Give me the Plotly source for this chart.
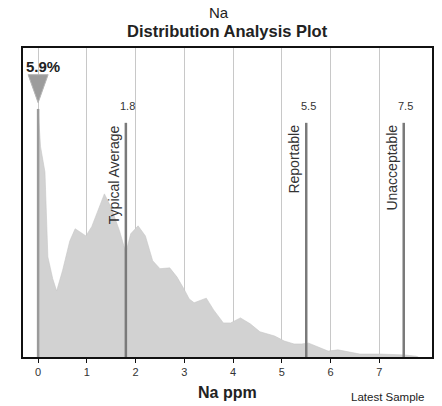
import plotly.graph_objects as go

# ---- data ----
na_ppm = [0.0, 0.05, 0.14, 0.17, 0.2, 0.3, 0.38, 0.5, 0.65, 0.76, 0.88, 0.98, 1.1, 1.2,
          1.36, 1.5, 1.67, 1.8, 1.9, 2.05, 2.2, 2.35, 2.5, 2.7, 2.85, 3.0, 3.1, 3.2,
          3.45, 3.6, 3.8, 3.95, 4.15, 4.35, 4.55, 4.85, 5.05, 5.25, 5.4, 5.55, 5.75,
          5.95, 6.15, 6.35, 6.6, 7.0, 7.5, 7.75, 7.8]
pct = [5.9, 5.0, 4.4, 3.2, 2.38, 1.86, 1.57, 2.05, 2.76, 3.05, 2.95, 2.88, 3.10, 3.40,
       3.88, 3.55, 3.00, 2.48, 2.93, 3.12, 2.88, 2.29, 2.10, 2.12, 1.90, 1.60, 1.38, 1.29,
       1.40, 1.12, 0.81, 0.81, 0.93, 0.79, 0.60, 0.50, 0.38, 0.31, 0.31, 0.33, 0.24,
       0.14, 0.17, 0.12, 0.07, 0.07, 0.05, 0.02, 0.0]

latest_value = 0.0
latest_pct = 5.9
latest_label = "5.9%"

ref_values = [1.8, 5.5, 7.5]
ref_value_labels = ["1.8", "5.5", "7.5"]
ref_names = ["Typical Average", "Reportable", "Unacceptable"]
tick_vals = [0, 1, 2, 3, 4, 5, 6, 7]
tick_text = ["0", "1", "2", "3", "4", "5", "6", "7"]

FONT = "Liberation Sans, Arial, sans-serif"
REF_TOP = 5.57
TRI_Y = 6.05
Y_MAX = 7.35

fig = go.Figure()

fig.add_trace(go.Scatter(
    x=na_ppm, y=pct, mode="lines", fill="tozeroy",
    fillcolor="#d2d2d2", line=dict(color="#c6c6c6", width=0.6),
    hoverinfo="skip", showlegend=False))

shapes = []
# latest sample line
shapes.append(dict(type="line", xref="x", yref="y", x0=latest_value, x1=latest_value,
                   y0=0, y1=latest_pct, line=dict(color="#9a9a9a", width=2.5)))
# triangle marker (pixel sized, anchored at data position)
shapes.append(dict(type="path", xref="x", yref="y", xsizemode="pixel", ysizemode="pixel",
                   xanchor=latest_value, yanchor=TRI_Y,
                   path="M -10,28 L 10,28 L 0,0 Z",
                   fillcolor="#9c9c9c", line=dict(color="#b5b5b5", width=1)))
annotations = []
for v, vl, nm in zip(ref_values, ref_value_labels, ref_names):
    shapes.append(dict(type="line", xref="x", yref="y", x0=v, x1=v, y0=0, y1=REF_TOP,
                       line=dict(color="#7a7a7a", width=2.5)))
    annotations.append(dict(x=v, y=5.98, xref="x", yref="y", text=vl, showarrow=False,
                            xanchor="center", xshift=2,
                            font=dict(family=FONT, size=11, color="#333")))
    annotations.append(dict(x=v, y=REF_TOP, xref="x", yref="y", text=nm, showarrow=False,
                            textangle=-90, xanchor="right", yanchor="top", xshift=-2,
                            font=dict(family=FONT, size=14, color="#333")))

annotations.append(dict(x=latest_value, y=6.9, xref="x", yref="y", text="<b>" + latest_label + "</b>",
                        showarrow=False, xanchor="center", xshift=5,
                        font=dict(family=FONT, size=15, color="#222")))
annotations.append(dict(x=0.479, y=1.1165, xref="paper", yref="paper", text="Na",
                        showarrow=False, xanchor="center", yanchor="middle",
                        font=dict(family=FONT, size=15, color="#222")))
annotations.append(dict(x=0.499, y=1.055, xref="paper", yref="paper",
                        text="<b>Distribution Analysis Plot</b>", showarrow=False,
                        xanchor="center", yanchor="middle",
                        font=dict(family=FONT, size=16.5, color="#222")))
annotations.append(dict(x=0.499, y=-0.1165, xref="paper", yref="paper", text="<b>Na ppm</b>",
                        showarrow=False, xanchor="center", yanchor="middle",
                        font=dict(family=FONT, size=16, color="#222")))
annotations.append(dict(x=0.893, y=-0.1294, xref="paper", yref="paper", text="Latest Sample",
                        showarrow=False, xanchor="center", yanchor="middle",
                        font=dict(family=FONT, size=11.5, color="#222")))

fig.update_layout(
    width=442, height=406,
    margin=dict(l=23, r=8, t=48, b=49),
    paper_bgcolor="white", plot_bgcolor="white",
    showlegend=False,
    shapes=shapes, annotations=annotations,
    xaxis=dict(range=[-0.31, 8.08], tickvals=tick_vals, ticktext=tick_text,
               showgrid=True, gridcolor="#c8c8c8", gridwidth=1, zeroline=False,
               showline=True, linecolor="#111", linewidth=2, mirror=True,
               ticks="outside", ticklen=4, tickcolor="#111",
               tickfont=dict(family=FONT, size=11, color="#333")),
    yaxis=dict(range=[0, Y_MAX], showticklabels=False, showgrid=False, zeroline=False,
               showline=True, linecolor="#111", linewidth=2, mirror=True, ticks=""),
)

fig.write_html("out.html", config={"displayModeBar": False},
               post_script="document.body.style.margin='0';document.body.style.overflow='hidden';")
